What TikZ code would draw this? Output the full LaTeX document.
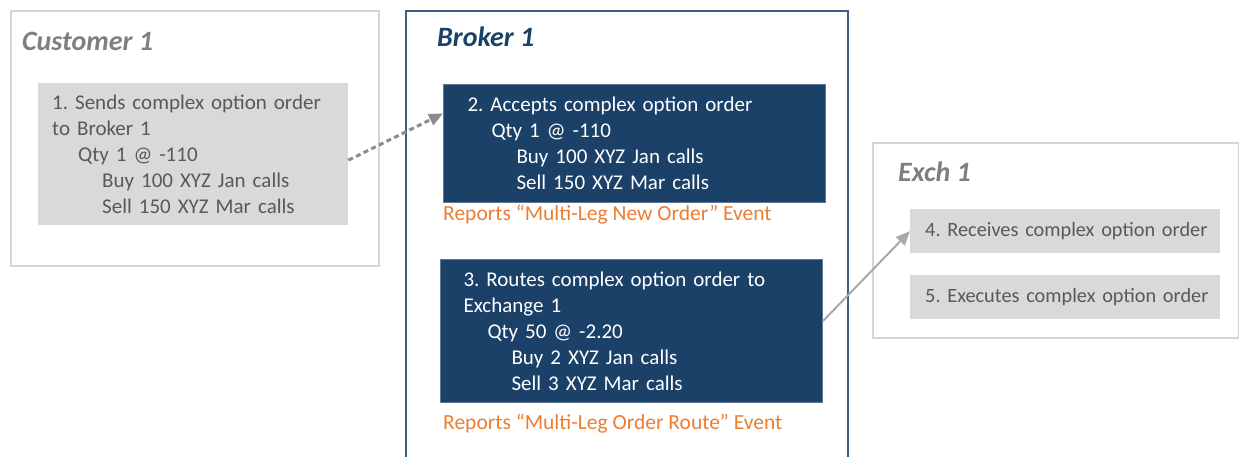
\documentclass[tikz,border=0pt]{standalone}
\usepackage{fontspec}
\setmainfont{Carlito}
\frenchspacing
\hyphenpenalty=10000
\exhyphenpenalty=10000
\usetikzlibrary{arrows.meta}
\definecolor{dblue}{HTML}{1B4169}
\definecolor{lgrey}{HTML}{D9D9D9}
\definecolor{bordgrey}{HTML}{D5D5D5}
\definecolor{txtgrey}{HTML}{595959}
\definecolor{ttlgrey}{HTML}{7F7F7F}
\definecolor{orng}{HTML}{ED7D31}
\definecolor{arrgrey}{HTML}{8C8C8C}
\tikzset{
  container/.style={draw=bordgrey, line width=2pt, fill=white, anchor=north west, inner sep=0pt},
  greybox/.style={fill=lgrey, anchor=north west, text=txtgrey, align=left, inner ysep=0pt,
     font=\fontsize{21}{26}\selectfont},
  bluebox/.style={fill=dblue, draw=dblue!70!white, line width=1pt, anchor=north west, text=white, align=left, inner ysep=0pt,
     font=\fontsize{21}{26}\selectfont},
  ttl/.style={anchor=west, inner sep=0pt, font=\fontsize{28}{32}\selectfont\bfseries\itshape},
  report/.style={anchor=west, inner sep=0pt, text=orng, font=\fontsize{21.5}{26}\selectfont},
  flow/.style={line width=2pt, -{Triangle[length=14pt,width=12pt]}},
}
\begin{document}
\begin{tikzpicture}[x=1pt,y=-1pt]
\clip (0,0) rectangle (1239,457);
\fill[white] (0,0) rectangle (1239,457);
% containers
\node[container, minimum width=368, minimum height=255] (cust) at (10,10) {};
\node[container, draw=dblue!85!white, minimum width=442, minimum height=470] (brok) at (405,10) {};
\node[container, minimum width=366, minimum height=195] (exch) at (872,142) {};
% titles
\node[ttl, text=ttlgrey] (tc) at (22,41) {Customer 1};
\node[ttl, text=dblue] (tb) at (437,37) {Broker 1};
\node[ttl, text=ttlgrey] (te) at (898,172) {Exch 1};
% step boxes
\node[greybox, minimum width=310, minimum height=142, text width=282, inner xsep=14] (s1) at (38,83)
 {1. Sends complex option order\\to Broker 1\\\hspace*{26pt}Qty 1 @ -110\\\hspace*{50pt}Buy 100 XYZ Jan calls\\\hspace*{50pt}Sell 150 XYZ Mar calls};
\node[bluebox, minimum width=382, minimum height=118, text width=334, inner xsep=24] (b2) at (443,84)
 {2. Accepts complex option order\\\hspace*{24pt}Qty 1 @ -110\\\hspace*{49pt}Buy 100 XYZ Jan calls\\\hspace*{49pt}Sell 150 XYZ Mar calls};
\node[report] (r2) at (443,215) {Reports “Multi-Leg New Order” Event};
\node[bluebox, minimum width=382, minimum height=143, text width=336, inner xsep=23] (b3) at (440,259)
 {3. Routes complex option order to\\Exchange 1\\\hspace*{24pt}Qty 50 @ -2.20\\\hspace*{48pt}Buy 2 XYZ Jan calls\\\hspace*{48pt}Sell 3 XYZ Mar calls};
\node[report] (r3) at (443,424) {Reports “Multi-Leg Order Route” Event};
\node[greybox, font=\fontsize{20.3}{26}\selectfont, minimum width=310, minimum height=44, text width=286, inner xsep=12] (e4) at (910,209)
 {\mbox{\hspace*{3pt}4. Receives complex option order}};
\node[greybox, font=\fontsize{20.3}{26}\selectfont, minimum width=310, minimum height=44, text width=286, inner xsep=12] (e5) at (910,275)
 {\mbox{\hspace*{3pt}5. Executes complex option order}};
% connectors
\draw[flow, arrgrey, line width=3pt, dash pattern=on 5pt off 3.5pt] ([yshift=-6pt]s1.east) -- ([yshift=30pt]b2.west);
\draw[flow, arrgrey!75!white] ([yshift=10pt]b3.east) -- (e4.west);
\end{tikzpicture}
\end{document}
